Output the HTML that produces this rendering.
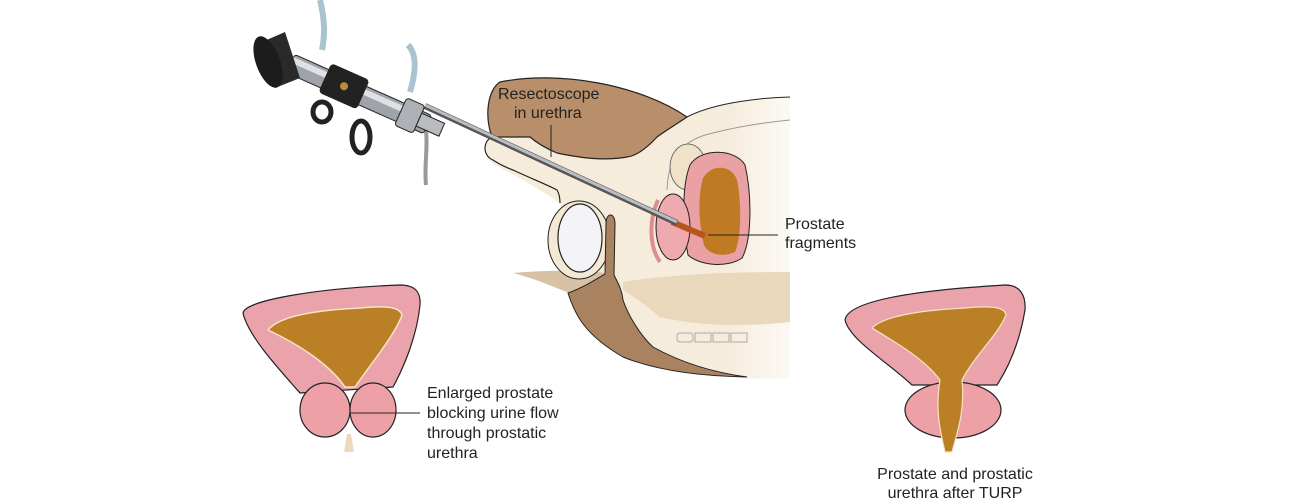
<!DOCTYPE html>
<html><head><meta charset="utf-8"><style>
html,body{margin:0;padding:0;background:#fff;}
svg{display:block;}
text{font-family:"Liberation Sans",Arial,sans-serif;font-size:16px;fill:#222;}
</style></head><body>
<svg width="1297" height="500" viewBox="0 0 1297 500" xmlns="http://www.w3.org/2000/svg">
<defs>
<linearGradient id="fadeR" x1="0" x2="1" y1="0" y2="0">
<stop offset="0.8" stop-color="#f6ecdc" stop-opacity="1"/>
<stop offset="1" stop-color="#f6ecdc" stop-opacity="0.3"/>
</linearGradient>
</defs>
<!-- cream body -->
<path d="M490,140 L687,117 C710,105 750,98 790,97 L790,378 C750,380 700,378 650,360 L600,300 L560,203 C540,190 515,175 495,165 C485,160 483,145 490,140 Z" fill="url(#fadeR)"/>
<path d="M513,273 C540,280 560,290 570,293 L607,273 C580,270 545,270 513,273 Z" fill="#d8c2a6"/>
<path d="M623,282 C660,276 710,272 790,272 L790,322 C750,326 710,328 660,317 C645,305 632,295 623,290 Z" fill="#ead8bd"/>
<path d="M687,117 C710,105 750,98 790,97" fill="none" stroke="#222" stroke-width="1"/>
<path d="M667,190 C668,160 680,140 713,133 C740,126 770,122 790,120" fill="none" stroke="#999" stroke-width="1"/>
<!-- brown top -->
<path d="M492,137 C484,115 488,90 500,82 C560,70 640,85 687,117 C672,127 662,133 657,137 C645,150 635,156 627,157 C610,160 590,160 557,153 C545,148 537,143 530,137 Z" fill="#b88f6a" stroke="#222" stroke-width="1.2"/>
<!-- penis outline -->
<path d="M492,137 C482,142 483,156 493,160 C502,166 513,170 513,170 C530,178 548,185 557,190 C560,195 560,200 560,203" fill="none" stroke="#222" stroke-width="1.2"/>
<!-- scrotum -->
<ellipse cx="579" cy="240" rx="31" ry="39" fill="#f3e8d4" stroke="#222" stroke-width="1"/>
<ellipse cx="580" cy="238" rx="22" ry="34" fill="#f4f4f8" stroke="#222" stroke-width="1.2"/>
<!-- brown perineum band -->
<path d="M568,293 C575,315 585,335 623,357 C650,368 690,376 747,377 C710,372 680,362 653,347 C640,335 628,315 623,300 C622,290 618,283 614,275 L615,224 C615,212 606,212 606,224 L605,274 C595,280 582,288 568,293 Z" fill="#a9825f" stroke="#222" stroke-width="1"/>
<!-- vertebrae -->
<g fill="none" stroke="#aaa" stroke-width="1">
<rect x="677" y="333" width="16" height="9" rx="3"/><rect x="695" y="333" width="16" height="9"/><rect x="713" y="333" width="16" height="9"/><rect x="731" y="333" width="16" height="9"/>
</g>
<!-- pubic bone -->
<ellipse cx="688" cy="167" rx="18" ry="23" fill="#f0e1c8" stroke="#555" stroke-width="0.8"/>
<!-- bladder -->
<path d="M690,165 C700,148 735,148 745,165 C752,195 752,240 742,258 C728,268 700,266 688,255 C682,225 682,185 690,165 Z" fill="#e9a1a4" stroke="#222" stroke-width="1"/>
<path d="M703,178 C712,163 732,165 737,180 C742,205 741,238 735,252 C722,258 708,254 704,245 C698,220 698,195 703,178 Z" fill="#c07a23"/>
<ellipse cx="673" cy="227" rx="17" ry="33" fill="#eeaaae" stroke="#222" stroke-width="1"/>
<path d="M658,200 C648,222 650,248 660,262" fill="none" stroke="#e08c90" stroke-width="4"/>
<path d="M672,222 L705,236" stroke="#b8551e" stroke-width="6"/>
<!-- resectoscope -->
<line x1="425" y1="106" x2="677" y2="223" stroke="#555" stroke-width="6"/>
<line x1="425" y1="105" x2="677" y2="222" stroke="#b9bcc0" stroke-width="3"/>
<path d="M426,130 C428,150 424,165 426,185" fill="none" stroke="#999" stroke-width="4"/>
<path d="M320,0 C325,20 325,35 322,50" fill="none" stroke="#aac4cf" stroke-width="6"/>
<path d="M408,45 C418,55 415,75 410,92" fill="none" stroke="#aac4cf" stroke-width="6"/>
<g transform="rotate(24 350 90)">
<rect x="285" y="80" width="150" height="20" rx="3" fill="#9fa4aa" stroke="#222" stroke-width="1"/>
<rect x="285" y="83" width="150" height="6" fill="#dfe2e5"/>
<rect x="322" y="73" width="42" height="32" rx="4" fill="#222"/>
<circle cx="343" cy="89" r="4" fill="#c08a3a"/>
<rect x="405" y="74" width="20" height="30" rx="3" fill="#aeb2b6" stroke="#222" stroke-width="1"/>
<rect x="425" y="82" width="25" height="14" fill="#b8bcc0" stroke="#222" stroke-width="1"/>
</g>
<path d="M262,42 L285,32 L300,78 L275,88 Z" fill="#2a2a2a"/>
<ellipse cx="268" cy="62" rx="12" ry="27" transform="rotate(-20 268 62)" fill="#1c1c1c"/>
<ellipse cx="322" cy="112" rx="9" ry="10" fill="none" stroke="#222" stroke-width="5"/>
<ellipse cx="361" cy="137" rx="9" ry="16" fill="none" stroke="#222" stroke-width="5"/>
<!-- left bladder -->
<path d="M243,313 C245,300 320,288 400,285 C415,285 421,292 420,305 C417,335 405,365 393,387 L300,393 C275,365 248,335 243,313 Z" fill="#eaa2ab" stroke="#222" stroke-width="1.2"/>
<path d="M268,330 C280,315 320,310 360,308 C390,305 400,308 402,315 C395,335 370,365 355,387 L345,387 C330,365 300,345 268,330 Z" fill="#bb7f26" stroke="#f6e4c8" stroke-width="1.5"/>
<ellipse cx="325" cy="410" rx="25" ry="27" fill="#eda1a6" stroke="#222" stroke-width="1.2"/>
<ellipse cx="373" cy="410" rx="23" ry="27" fill="#eda1a6" stroke="#222" stroke-width="1.2"/>
<path d="M347,434 L344,452 L354,452 L351,434 Z" fill="#ecd9bd"/>
<line x1="351" y1="413" x2="420" y2="413" stroke="#222" stroke-width="1"/>
<!-- right bladder -->
<path d="M845,320 C848,300 920,290 1005,285 C1020,285 1026,295 1025,310 C1020,340 1010,365 997,385 L912,385 C885,360 850,340 845,320 Z" fill="#eaa2ab" stroke="#222" stroke-width="1.2"/>
<ellipse cx="953" cy="410" rx="48" ry="28" fill="#eda1a6" stroke="#222" stroke-width="1.2"/>
<path d="M872,328 C885,315 925,310 965,308 C995,305 1005,308 1006,315 C998,335 975,355 962,380 C965,410 958,430 952,452 L945,452 C940,430 935,410 940,380 C925,360 900,345 872,328 Z" fill="#bb7f26" stroke="#f6e4c8" stroke-width="1.2"/>
<!-- labels -->
<text x="498" y="99">Resectoscope</text>
<text x="514" y="118">in urethra</text>
<line x1="551" y1="125" x2="551" y2="157" stroke="#222" stroke-width="1"/>
<text x="785" y="229">Prostate</text>
<text x="785" y="248">fragments</text>
<line x1="708" y1="235" x2="778" y2="235" stroke="#222" stroke-width="1"/>
<text x="427" y="398">Enlarged prostate</text>
<text x="427" y="418">blocking urine flow</text>
<text x="427" y="438">through prostatic</text>
<text x="427" y="458">urethra</text>
<text x="955" y="479" text-anchor="middle">Prostate and prostatic</text>
<text x="955" y="498" text-anchor="middle">urethra after TURP</text>
</svg>
</body></html>
